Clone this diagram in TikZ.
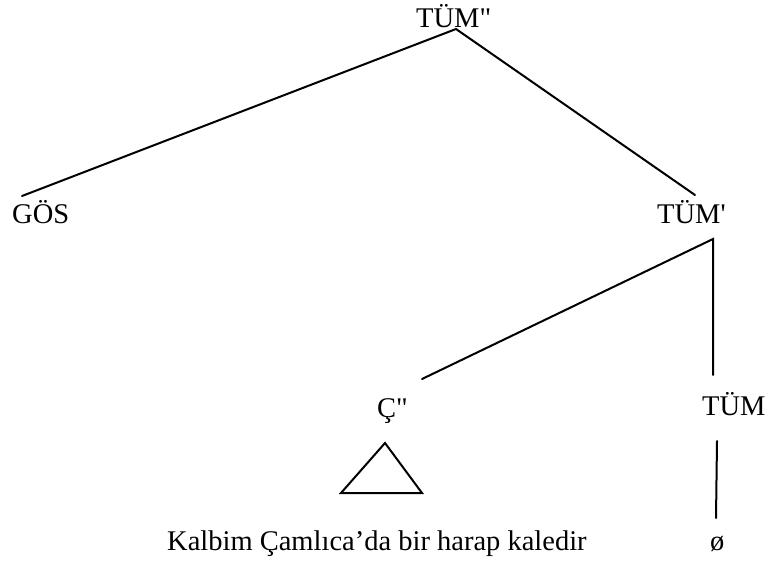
\documentclass[tikz,border=0pt]{standalone}
\usepackage{fontspec}
\setmainfont{Liberation Serif}
\begin{document}
\begin{tikzpicture}[x=1pt,y=-1pt,
  lbl/.style={inner sep=0pt,anchor=base west,font=\fontsize{28.5}{32}\selectfont},
  edge/.style={line width=2pt,line cap=round}]
\useasboundingbox (0,0) rectangle (768,560);
% category labels
\node[lbl] (top)  at (416,27)  {TÜM\textquotedbl};
\node[lbl] (gos)  at (12,223)  {GÖS};
\node[lbl] (tbar) at (657,223) {TÜM\textquotesingle};
\node[lbl] (cp)   at (377,417) {Ç\textquotedbl};
\node[lbl] (tum)  at (702,415) {TÜM};
\node[lbl] (null) at (710,550) {ø};
\node[lbl] (sent) at (167,550) {Kalbim Çamlıca’da bir harap kaledir};
% branch end points
\coordinate (a)  at (456,29);
\coordinate (a1) at (22,196);
\coordinate (a2) at (695,195);
\coordinate (b)  at (713,239);
\coordinate (b1) at (422,379);
\coordinate (b2) at (713,375);
\coordinate (c1) at (717,441);
\coordinate (c2) at (716,518);
% triangle over the clause
\coordinate (t1) at (385,443);
\coordinate (t2) at (341,493);
\coordinate (t3) at (422,493);
% branches
\draw[edge] (a1) -- (a) -- (a2);
\draw[edge] (b1) -- (b) -- (b2);
\draw[edge] (c1) -- (c2);
\draw[edge,line join=miter] (t1) -- (t2) -- (t3) -- cycle;
\end{tikzpicture}
\end{document}
